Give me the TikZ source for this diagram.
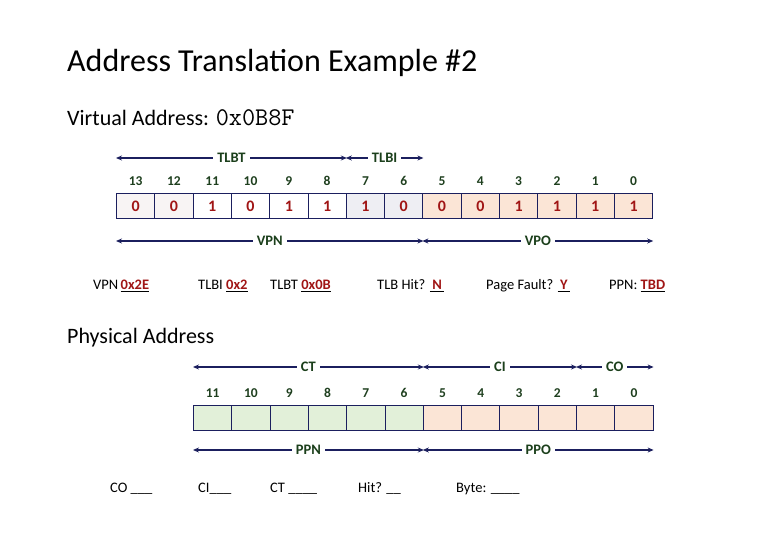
\documentclass[tikz,border=0pt]{standalone}
\usepackage{fontspec}
\setmainfont{Carlito}
\usetikzlibrary{arrows.meta, positioning}

\definecolor{spannavy}{HTML}{1B1F5E}
\definecolor{valred}{HTML}{A01515}
\definecolor{numgreen}{HTML}{1E3F1E}
\definecolor{labgreen}{HTML}{1B3F1B}
\definecolor{peach}{HTML}{FBE5D6}
\definecolor{mint}{HTML}{E2F0D9}
\definecolor{idxgray}{HTML}{EEEEF3}
\definecolor{offwhite}{HTML}{F8F4F4}

\begin{document}
\begin{tikzpicture}[x=1pt, y=-1pt,
    cell/.style={draw=spannavy, line width=1pt, minimum width=38.3pt, minimum height=25pt,
      inner sep=0pt, anchor=north west, text=valred, font=\bfseries\fontsize{16}{16}\selectfont},
    bitnum/.style={text=numgreen, inner sep=2pt, font=\bfseries\fontsize{13.5}{13.5}\selectfont},
    span/.style={{Stealth[length=6pt,width=5pt]}-{Stealth[length=6pt,width=5pt]}, spannavy, line width=1.4pt},
    spanlabel/.style={fill=white, text=labgreen, inner sep=4pt, font=\bfseries\fontsize{14.5}{14.5}\selectfont},
    answer/.style={anchor=base west, inner sep=0pt, font=\fontsize{14.5}{14.5}\selectfont},
    heading/.style={anchor=base west, inner sep=0pt, font=\fontsize{22}{22}\selectfont}]

\useasboundingbox (0,0) rectangle (780,540);

% headings
\node[anchor=base west, inner sep=0pt, font=\fontsize{32}{32}\selectfont] (title) at (67,72) {Address Translation Example \#2};
\node[heading] (vahead) at (67,126) {Virtual Address: {\ttfamily\fontsize{25.5}{25.5}\selectfont 0x0B8F}};
\node[heading] (pahead) at (67,344) {Physical Address};

% virtual address bits
\foreach \v/\f [count=\i from 0] in {0/offwhite,0/offwhite,1/white,0/white,1/white,1/white,1/idxgray,0/idxgray,0/peach,0/peach,1/peach,1/peach,1/peach,1/peach} {
  \pgfmathtruncatemacro\b{13-\i}
  \node[cell, fill=\f] (va\b) at ({116+38.3*\i},193) {\v};
  \node[bitnum, above=5pt of va\b] (vn\b) {\b};
}

\draw[span] (va13.west |- 0,158) -- node[spanlabel] {TLBT} (va8.east |- 0,158);
\draw[span] (va7.west |- 0,158) -- node[spanlabel] {TLBI} (va6.east |- 0,158);
\draw[span] (va13.west |- 0,241) -- node[spanlabel] {VPN} (va6.east |- 0,241);
\draw[span] (va5.west |- 0,241) -- node[spanlabel] {VPO} (va0.east |- 0,241);

% answers
\newcommand{\ans}[1]{\underline{\textcolor{valred}{\bfseries #1}}}
\node[answer] (vpn) at (93,290) {VPN\,\ans{0x2E}};
\node[answer] (tlbi) at (198,290) {TLBI \ans{0x2}};
\node[answer] (tlbt) at (270,290) {TLBT \ans{0x0B}};
\node[answer] (hit) at (377,290) {TLB Hit? \ans{\,N\,}};
\node[answer] (fault) at (486,290) {Page Fault? \ans{\,Y\,}};
\node[answer] (ppn) at (609,290) {PPN: \ans{TBD}};

% physical address bits
\foreach \f [count=\i from 0] in {mint,mint,mint,mint,mint,mint,peach,peach,peach,peach,peach,peach} {
  \pgfmathtruncatemacro\b{11-\i}
  \node[cell, fill=\f] (pa\b) at ({193+38.3*\i},405) {};
  \node[bitnum, above=5pt of pa\b] (pn\b) {\b};
}

\draw[span] (pa11.west |- 0,367) -- node[spanlabel] {CT} (pa6.east |- 0,367);
\draw[span] (pa5.west |- 0,367) -- node[spanlabel] {CI} (pa2.east |- 0,367);
\draw[span] (pa1.west |- 0,367) -- node[spanlabel] {CO} (pa0.east |- 0,367);
\draw[span] (pa11.west |- 0,450) -- node[spanlabel] {PPN} (pa6.east |- 0,450);
\draw[span] (pa5.west |- 0,450) -- node[spanlabel] {PPO} (pa0.east |- 0,450);

\node[answer] (co) at (110,492) {CO \_\_\_};
\node[answer] (ci) at (198,492) {CI\_\_\_};
\node[answer] (ct) at (270,492) {CT \_\_\_\_};
\node[answer] (chit) at (358,492) {Hit? \_\_};
\node[answer] (byte) at (456,492) {Byte: \_\_\_\_};
\end{tikzpicture}
\end{document}
